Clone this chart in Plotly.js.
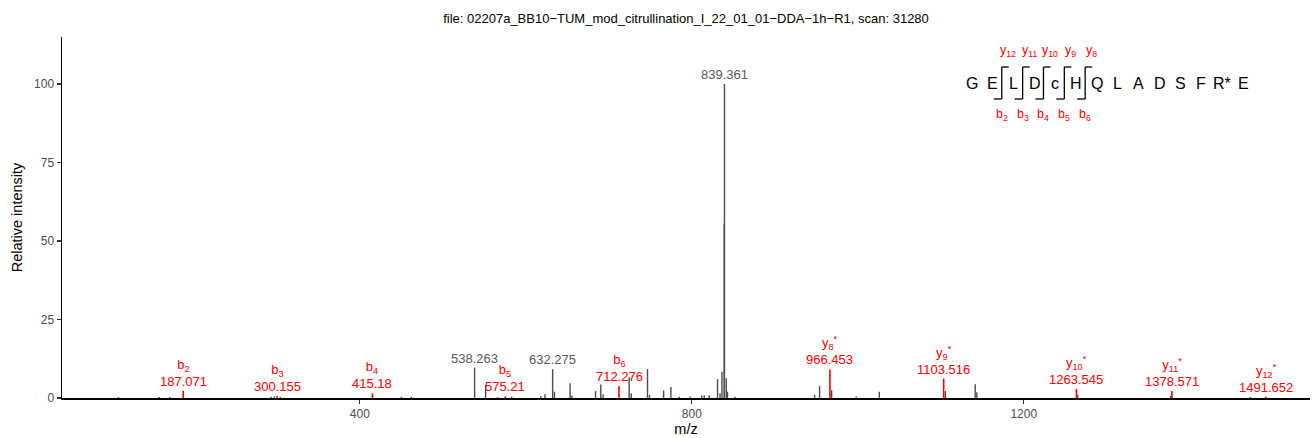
<!DOCTYPE html>
<html>
<head>
<meta charset="utf-8">
<script src="https://cdn.plot.ly/plotly-3.0.1.min.js"></script>
<style>html,body{margin:0;padding:0;background:#fff;}#chart{width:1314px;height:438px;}</style>
</head>
<body>
<div id="chart"></div>
<script>
// ---- data ----
const titleText = "file: 02207a_BB10\u2212TUM_mod_citrullination_I_22_01_01\u2212DDA\u22121h\u2212R1, scan: 31280";

// unannotated (grey) peaks
const greyMz  = [109, 158, 171, 293, 297, 304, 450, 462, 538.263, 551.5, 566, 583, 618, 623, 632.275, 634.5,
                 653.3, 655.5, 684, 690.3, 693, 724.5, 727, 746.6, 749, 766, 774.8, 785, 798, 812, 815, 821,
                 831, 834, 836.3, 839.0, 839.361, 841.6, 843, 852, 948, 954, 968.5, 998, 1026, 1105.6,
                 1141.5, 1143.5, 1265, 1377, 1473];
const greyInt = [0.3, 0.3, 0.3, 0.4, 0.5, 0.3, 0.4, 0.4, 9.7, 4.2, 0.3, 0.4, 0.6, 1.2, 9.2, 2.0,
                 4.7, 0.8, 2.2, 4.3, 1.2, 6.7, 1.5, 9.2, 1.0, 2.4, 3.5, 0.4, 0.5, 0.8, 0.8, 0.9,
                 6.0, 1.5, 8.4, 55.5, 100, 6.3, 2.0, 0.4, 1.0, 3.8, 2.5, 0.5, 2.0, 2.2,
                 4.4, 1.8, 1.0, 0.7, 0.3];

// labelled grey peaks
const topMz  = [538.263, 632.275, 839.361];
const topInt = [9.7, 9.2, 100];

// matched fragment ions (red)
const ionNames = ["b<sub>2</sub>", "b<sub>3</sub>", "b<sub>4</sub>", "b<sub>5</sub>", "b<sub>6</sub>",
                  "y<sub>8</sub><sup>*</sup>", "y<sub>9</sub><sup>*</sup>", "y<sub>10</sub><sup>*</sup>",
                  "y<sub>11</sub><sup>*</sup>", "y<sub>12</sub><sup>*</sup>"];
const ionMz  = [187.071, 300.155, 415.18, 575.21, 712.276, 966.453, 1103.516, 1263.545, 1378.571, 1491.652];
const ionInt = [2.3, 0.6, 1.5, 0.5, 3.8, 9.1, 6.2, 2.9, 2.2, 0.4];

// peptide sequence with fragment sites (cleavage after residue index)
const sequence = ["G", "E", "L", "D", "c", "H", "Q", "L", "A", "D", "S", "F", "R*", "E"];
const bSites   = [2, 3, 4, 5, 6];       // b ion numbers
const yLabels  = ["y<sub>12</sub>", "y<sub>11</sub>", "y<sub>10</sub>", "y<sub>9</sub>", "y<sub>8</sub>"];
const bLabels  = ["b<sub>2</sub>", "b<sub>3</sub>", "b<sub>4</sub>", "b<sub>5</sub>", "b<sub>6</sub>"];

// ---- build ----
function sticks(mz, inten) {
  const x = [], y = [];
  mz.forEach((m, i) => { x.push(m, m, null); y.push(0, inten[i], null); });
  return {x, y};
}
const g = sticks(greyMz, greyInt);
const r = sticks(ionMz, ionInt);

const traces = [
  {type: "scatter", mode: "lines", x: g.x, y: g.y, line: {color: "#4d4d4d", width: 1.4},
   hoverinfo: "skip", showlegend: false},
  {type: "scatter", mode: "lines", x: r.x, y: r.y, line: {color: "#ff0000", width: 1.6},
   hoverinfo: "skip", showlegend: false}
];

const FONT = "Liberation Sans, Arial, Helvetica, sans-serif";
const annotations = [];
topMz.forEach((m, i) => annotations.push({
  x: m, y: topInt[i], xref: "x", yref: "y", text: m.toFixed(3), showarrow: false,
  yanchor: "bottom", yshift: 0, font: {family: FONT, size: 13, color: "#595959"}
}));
ionMz.forEach((m, i) => annotations.push({
  x: m, y: ionInt[i], xref: "x", yref: "y", text: ionNames[i] + "<br>" + String(m), showarrow: false,
  yanchor: "bottom", yshift: 0, font: {family: FONT, size: 13, color: "#ff0000"}
}));

// peptide diagram (pixel layout -> paper coords)
const L = 62, R = 1310, T = 37, B = 398;
const px = v => (v - L) / (R - L);
const py = v => (B - v) / (B - T);
const seqX0 = 972, seqStep = 20.85, seqY = 83;
const shapes = [];
sequence.forEach((s, i) => annotations.push({
  x: px(seqX0 + i * seqStep), y: py(seqY), xref: "paper", yref: "paper", text: s, showarrow: false,
  xanchor: "center", yanchor: "middle", font: {family: FONT, size: 16, color: "#000"}
}));
bSites.forEach((n, k) => {
  const v = seqX0 + (n - 0.5) * seqStep - 1.5;
  const ln = (x0, y0, x1, y1) => shapes.push({type: "line", xref: "paper", yref: "paper",
    x0: px(x0), y0: py(y0), x1: px(x1), y1: py(y1), line: {color: "#000", width: 1.3}});
  ln(v, 67, v, 99);
  ln(v, 67, v + 7, 67);
  ln(v - 8, 99, v, 99);
  annotations.push({x: px(v + 6.5), y: py(51.5), xref: "paper", yref: "paper", text: yLabels[k],
    showarrow: false, xanchor: "center", yanchor: "middle", font: {family: FONT, size: 12.5, color: "#ff0000"}});
  annotations.push({x: px(v), y: py(115), xref: "paper", yref: "paper", text: bLabels[k],
    showarrow: false, xanchor: "center", yanchor: "middle", font: {family: FONT, size: 12.5, color: "#ff0000"}});
});

const layout = {
  width: 1314, height: 438,
  margin: {l: L, r: 1314 - R, t: T, b: 438 - B, pad: 0},
  paper_bgcolor: "#fff", plot_bgcolor: "#fff",
  font: {family: FONT},
  title: {text: titleText, x: 0.5, xref: "paper", y: 1 - 18 / 438, yanchor: "middle",
          font: {family: FONT, size: 13, color: "#000"}},
  xaxis: {range: [41, 1545], tickvals: [400, 800, 1200], ticktext: ["400", "800", "1200"],
          showgrid: false, zeroline: false, showline: true, linecolor: "#000", linewidth: 1.5,
          ticks: "outside", ticklen: 4, tickcolor: "#333", tickwidth: 1.2,
          tickfont: {family: FONT, size: 12, color: "#4d4d4d"},
          title: {text: "m/z", font: {family: FONT, size: 14.5, color: "#000"}, standoff: 4}},
  yaxis: {range: [0, 115], tickvals: [0, 25, 50, 75, 100],
          showgrid: false, zeroline: false, showline: true, linecolor: "#000", linewidth: 1.5,
          ticks: "outside", ticklen: 4, tickcolor: "#333", tickwidth: 1.2,
          tickfont: {family: FONT, size: 12, color: "#4d4d4d"},
          title: {text: "Relative intensity", font: {family: FONT, size: 14.5, color: "#000"}, standoff: 8}},
  annotations: annotations,
  shapes: shapes,
  showlegend: false
};

Plotly.newPlot("chart", traces, layout, {displayModeBar: false, staticPlot: true});
</script>
</body>
</html>
